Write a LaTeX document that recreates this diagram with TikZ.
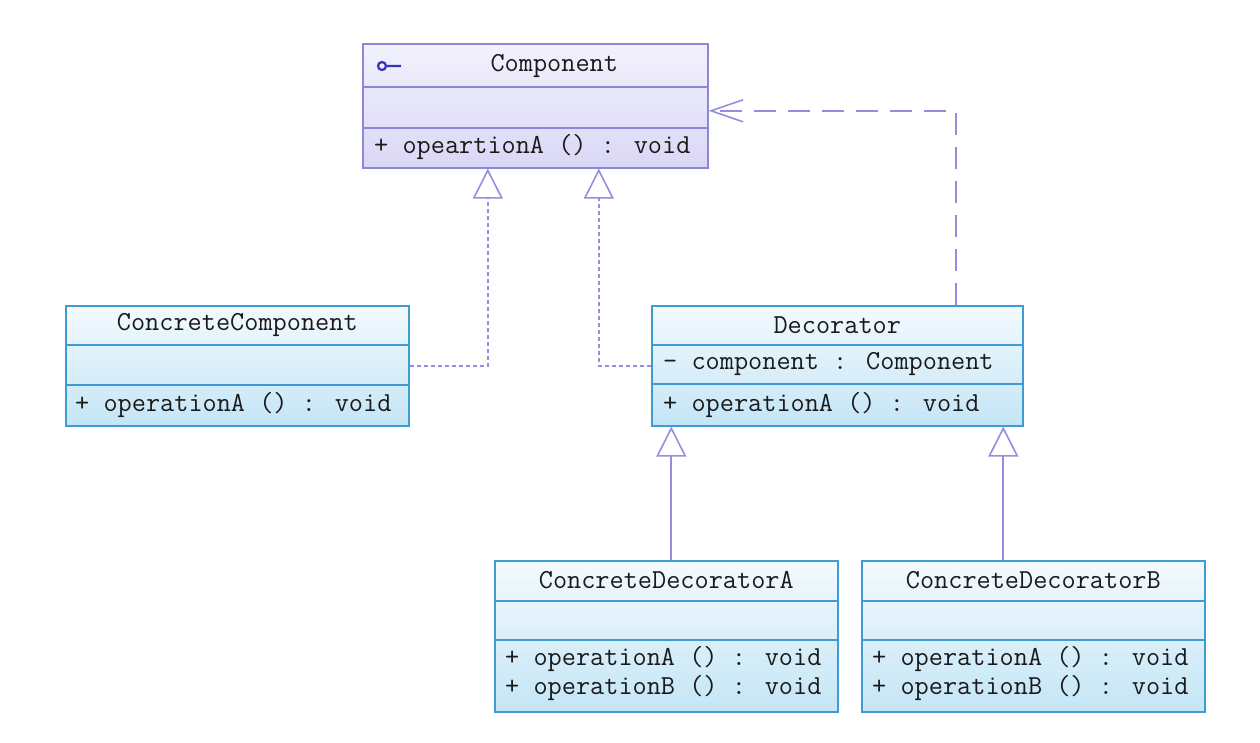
\documentclass[tikz,border=0pt]{standalone}
\usepackage{fontspec}
\usetikzlibrary{positioning,arrows.meta}
\definecolor{linkviolet}{HTML}{938EE0}
\definecolor{ifaceedge}{HTML}{8C88D8}
\definecolor{ifacetop}{HTML}{F2F1FD}
\definecolor{ifacebot}{HTML}{DAD7F5}
\definecolor{classedge}{HTML}{3F9BD2}
\definecolor{classtop}{HTML}{F3FAFE}
\definecolor{classbot}{HTML}{C4E5F6}
\definecolor{icondark}{HTML}{3633B5}
\definecolor{textdark}{HTML}{1A1A1A}
\tikzset{
  classbox/.style={draw=classedge, line width=1.6pt, top color=classtop, bottom color=classbot,
    anchor=north west, inner sep=0pt},
  ifacebox/.style={classbox, draw=ifaceedge, top color=ifacetop, bottom color=ifacebot},
  classsep/.style={draw=classedge, line width=1.4pt},
  ifacesep/.style={draw=ifaceedge, line width=1.4pt},
  classname/.style={font=\ttfamily\fontsize{27.5}{32}\selectfont, text=textdark, inner sep=0pt},
  member/.style={classname, anchor=west},
  realize/.style={draw=linkviolet, line width=1.6pt, dash pattern=on 4pt off 3pt},
  extend/.style={draw=linkviolet, line width=2pt},
  refer/.style={draw=linkviolet, line width=1.8pt, dash pattern=on 22pt off 12pt},
  openhead/.style={-{Triangle[open, length=30pt, width=30pt, fill=white, line width=1.6pt]}},
  barbhead/.style={-{Straight Barb[length=32pt, width=22pt, line width=1.6pt]}},
}
\begin{document}
\begin{tikzpicture}[x=1pt,y=-1pt]
  \fill[white] (0,0) rectangle (1260,742);
  \useasboundingbox (0,0) rectangle (1260,742);

  \node[ifacebox, minimum width=345pt, minimum height=124pt] (comp) at (362,43) {};
  \draw[ifacesep] ([yshift=-44pt]comp.north west) -- ([yshift=-44pt]comp.north east);
  \draw[ifacesep] ([yshift=-85pt]comp.north west) -- ([yshift=-85pt]comp.north east);
  \draw[icondark, line width=2.2pt] (382,66) circle (4) (386,66) -- (401,66);
  \node[classname] (comp-title) at ([xshift=19pt,yshift=-23pt]comp.north) {Component};
  \node[member] (comp-op) at ([xshift=12pt,yshift=-104pt]comp.north west) {+ opeartionA () : void};

  \node[classbox, minimum width=343pt, minimum height=120pt] (concomp) at (65,305) {};
  \draw[classsep] ([yshift=-40pt]concomp.north west) -- ([yshift=-40pt]concomp.north east);
  \draw[classsep] ([yshift=-80pt]concomp.north west) -- ([yshift=-80pt]concomp.north east);
  \node[classname] (concomp-title) at ([yshift=-20pt]concomp.north) {ConcreteComponent};
  \node[member] (concomp-op) at ([xshift=10pt,yshift=-100pt]concomp.north west) {+ operationA () : void};

  \node[classbox, minimum width=371pt, minimum height=120pt] (deco) at (651,305) {};
  \draw[classsep] ([yshift=-40pt]deco.north west) -- ([yshift=-40pt]deco.north east);
  \draw[classsep] ([yshift=-79pt]deco.north west) -- ([yshift=-79pt]deco.north east);
  \node[classname] (deco-title) at ([yshift=-20pt]deco.north) {Decorator};
  \node[member] (deco-attr) at ([xshift=12pt,yshift=-59pt]deco.north west) {- component : Component};
  \node[member] (deco-op) at ([xshift=12pt,yshift=-100pt]deco.north west) {+ operationA () : void};

  \foreach \s/\x/\d in {A/494/5,B/861/-30}{
    \node[classbox, minimum width=343pt, minimum height=151pt] (deco\s) at (\x,560) {};
    \draw[classsep] ([yshift=-41pt]deco\s.north west) -- ([yshift=-41pt]deco\s.north east);
    \draw[classsep] ([yshift=-80pt]deco\s.north west) -- ([yshift=-80pt]deco\s.north east);
    \node[classname] (deco\s-title) at ([yshift=-20pt]deco\s.north) {ConcreteDecorator\s};
    \node[member] (deco\s-opA) at ([xshift=11pt,yshift=-99pt]deco\s.north west) {+ operationA () : void};
    \node[member] (deco\s-opB) at ([xshift=11pt,yshift=-128pt]deco\s.north west) {+ operationB () : void};
    \draw[extend, openhead] ([xshift=\d pt]deco\s.north) -- ([xshift=\d pt]deco\s.north |- deco.south);
  }

  \draw[realize, openhead] (concomp.east) -| ([xshift=-47.5pt]comp.south);
  \draw[realize, openhead] (deco.west) -| ([xshift=63.5pt]comp.south);
  \draw[refer, barbhead] ([xshift=118.5pt]deco.north) |- ([yshift=-5pt]comp.east);
\end{tikzpicture}
\end{document}
